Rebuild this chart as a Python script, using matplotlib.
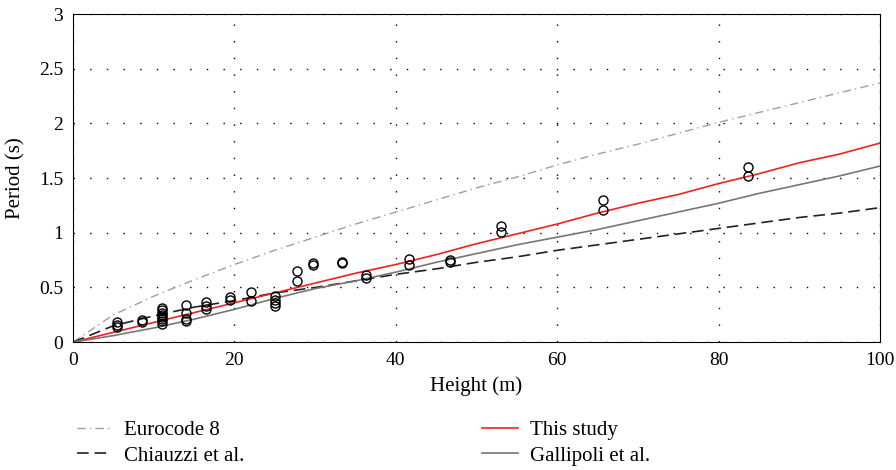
import matplotlib
matplotlib.use("Agg")
import matplotlib.pyplot as plt  # noqa: E402

plt.rcParams["font.family"] = ["Liberation Serif", "DejaVu Serif"]

# fitted / code curves
height = [0, 5, 10, 15, 20, 25, 30, 35, 40, 45, 50, 55, 60, 65, 70, 75, 80, 85, 90, 95, 100]
t_ec8 = [0, 0.25, 0.42, 0.57, 0.71, 0.84, 0.96, 1.08, 1.19, 1.30, 1.41, 1.51, 1.62, 1.72,
         1.81, 1.91, 2.01, 2.10, 2.19, 2.28, 2.37]
t_chiauzzi = [0, 0.15, 0.24, 0.32, 0.38, 0.45, 0.50, 0.56, 0.62, 0.67, 0.73, 0.78, 0.84,
              0.89, 0.94, 0.99, 1.04, 1.09, 1.14, 1.18, 1.23]
t_study = [0, 0.09, 0.18, 0.27, 0.36, 0.45, 0.54, 0.63, 0.71, 0.80, 0.90, 0.99, 1.08,
           1.18, 1.27, 1.35, 1.45, 1.54, 1.64, 1.72, 1.82]
t_gallipoli = [0, 0.06, 0.13, 0.21, 0.30, 0.40, 0.49, 0.56, 0.64, 0.73, 0.81, 0.89, 0.96,
               1.03, 1.11, 1.19, 1.27, 1.36, 1.44, 1.52, 1.61]

# measured buildings
obs_h = [5.5, 5.5, 5.5, 8.5, 8.5,
         11, 11, 11, 11, 11, 11, 11, 11,
         14, 14, 14, 14, 16.5, 16.5, 16.5, 19.5, 19.5, 22, 22,
         25, 25, 25, 25, 27.7, 27.7, 29.8, 29.8, 33.3, 33.3, 36.3, 36.3,
         41.7, 41.7, 46.7, 46.7, 53, 53, 65.7, 65.7, 83.7, 83.7]
obs_t = [0.14, 0.16, 0.18, 0.18, 0.20,
         0.17, 0.19, 0.21, 0.23, 0.25, 0.27, 0.29, 0.31,
         0.19, 0.21, 0.27, 0.34, 0.30, 0.33, 0.37, 0.39, 0.41, 0.38, 0.46,
         0.33, 0.36, 0.39, 0.42, 0.56, 0.65, 0.71, 0.72, 0.72, 0.73, 0.59, 0.61,
         0.71, 0.76, 0.73, 0.75, 1.01, 1.06, 1.21, 1.30, 1.52, 1.60]

xticks = [0, 20, 40, 60, 80, 100]
yticks = [0, 0.5, 1, 1.5, 2, 2.5, 3]
ytick_labels = ["0", "0.5", "1", "1.5", "2", "2.5", "3"]

fig = plt.figure(figsize=(8.96, 4.70), dpi=100)
ax = fig.add_axes([0.0815, 0.272, 0.9005, 0.698])

ax.plot(height, t_ec8, color="#a0a0a0", lw=1.0, linestyle=(0, (6, 3, 1, 3)), label="Eurocode 8")
ax.plot(height, t_chiauzzi, color="#222222", lw=1.2, linestyle=(0, (7, 3.5)), label="Chiauzzi et al.")
ax.plot(height, t_study, color="#ee2222", lw=1.2, label="This study")
ax.plot(height, t_gallipoli, color="#777777", lw=1.2, label="Gallipoli et al.")
ax.plot(obs_h, obs_t, linestyle="none", marker="o", ms=6.5, mfc="none", mec="black", mew=1.0)

ax.set_xlim(0, 100)
ax.set_ylim(0, 3)
ax.set_xticks(xticks)
ax.set_yticks(yticks)
ax.set_yticklabels(ytick_labels)
ax.tick_params(labelsize=14, length=0, pad=7)
ax.grid(True, color="black", linestyle=(0, (1, 11)), lw=1.0)
ax.set_xlabel("Height (m)", fontsize=15, labelpad=5)
ax.set_ylabel("Period (s)", fontsize=15, labelpad=10)

ax.legend(loc="upper left", bbox_to_anchor=(-0.006, -0.213), ncol=2, frameon=False,
          fontsize=15, handlelength=1.7, columnspacing=11.4, labelspacing=0.3,
          handletextpad=0.6, borderaxespad=0)

fig.savefig("out.png", dpi=100)
